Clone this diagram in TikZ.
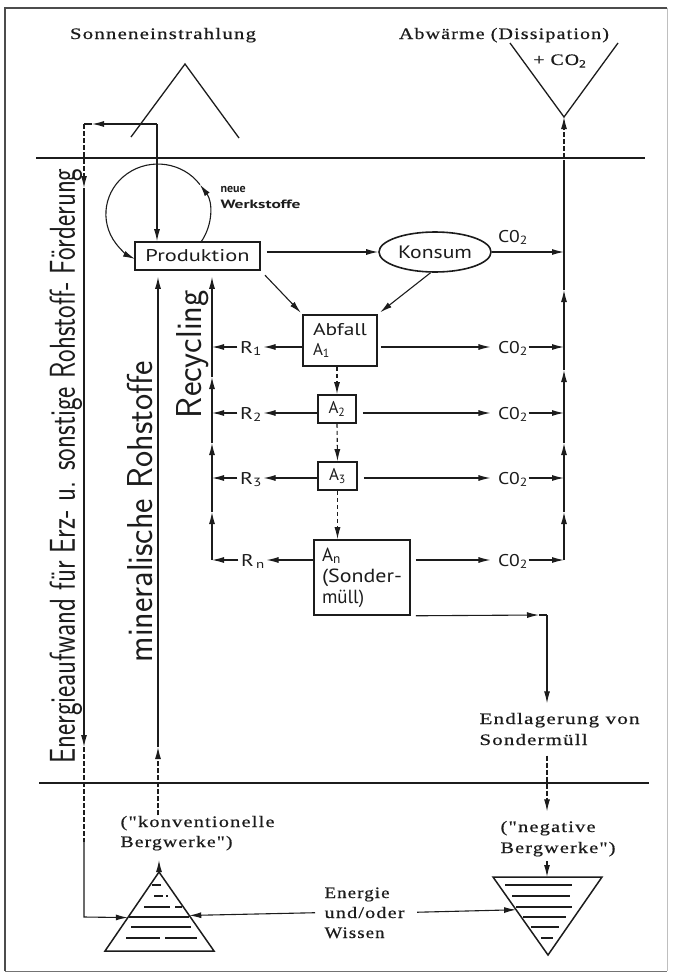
\documentclass[tikz,border=0pt]{standalone}
\usepackage{fontspec}
\usepackage{graphicx}
\usetikzlibrary{arrows.meta,calc,shapes.geometric}
\newfontfamily\scanserif[LetterSpace=6.0,FakeBold=0.6]{Liberation Serif}
\newfontfamily\boxsans{PT Sans}
\definecolor{ink}{HTML}{1C1C1C}
\newcommand\fitw[2]{\resizebox{#1}{\height}{#2}}
\tikzset{
 arr/.style={-{Latex[length=12pt,width=6pt]}},
 crossd/.style={dash pattern=on 5pt off 2pt},
 dsh/.style={dash pattern=on 4pt off 3pt},
 box/.style={draw,rectangle,line width=1.6pt,inner sep=0pt,font=\boxsans\fontsize{17}{20}\selectfont,align=left},
 lbl/.style={inner sep=0pt,font=\scanserif\fontsize{16}{20}\selectfont},
 slbl/.style={inner sep=0pt,font=\boxsans\fontsize{17}{20}\selectfont},
 nlbl/.style={inner sep=0pt,font=\boxsans\bfseries\fontsize{12}{14}\selectfont},
 rot/.style={rotate=90,inner sep=0pt,font=\sffamily\fontsize{36}{36}\selectfont},
 hatch/.style={line width=1.4pt},
 sep/.style={line width=1.4pt},
}
\begin{document}
\begin{tikzpicture}[x=1pt,y=-1pt,line width=1.1pt,color=ink]
\useasboundingbox (0,0) rectangle (672,977);
% frame
\draw[black!70,line width=1.2pt] (5,971) -- (5,8) -- (667,8);
\draw[black!25,line width=1pt] (667,8) -- (667,971);
\draw[black!55,line width=1pt] (5,971) -- (667,971);
% separators
\coordinate (topL) at (36,158); \coordinate (topR) at (645,158);
\coordinate (botL) at (39,783); \coordinate (botR) at (649,783);
\draw[sep] (topL) -- (topR);
\draw[sep] (botL) -- (botR);
% top labels and symbols
\node[lbl,anchor=base] (sun) at (163,39) {\fitw{186pt}{Sonneneinstrahlung}};
\node[lbl,anchor=base] (heat) at (504,39) {\fitw{210pt}{Abwärme (Dissipation)}};
\node[lbl,anchor=base] (co2top) at (560,65) {\fitw{53pt}{+ CO\textsubscript{2}}};
\coordinate (sunL) at (131,137); \coordinate (sunT) at (185,64); \coordinate (sunR) at (239,138);
\draw[line width=1.3pt] (sunL) -- (sunT) -- (sunR);
\coordinate (vL) at (510,43); \coordinate (vB) at (564,117); \coordinate (vR) at (618,43);
\draw[line width=1.3pt] (vL) -- (vB) -- (vR);
% rotated texts
\node[rot] (energytxt) at (66,466) {\fitw{595pt}{Energieaufwand für Erz- u. sonstige Rohstoff- Förderung}};
\node[rot] (mintxt) at (140,512) {\fitw{301pt}{mineralische Rohstoffe}};
\node[rot] (rectxt) at (193,354) {\fitw{128pt}{Recycling}};
% main nodes
\node[box,minimum width=125pt,minimum height=28pt] (prod) at (197.5,256) {\fitw{104pt}{Produktion}};
\node[draw,ellipse,line width=1.6pt,minimum width=112pt,minimum height=40pt,inner sep=0pt,font=\boxsans\fontsize{18}{20}\selectfont] (kons) at (435,252) {\fitw{74pt}{Konsum}};
\node[box,minimum width=74pt,minimum height=51pt] (abf) at (340,340.5) {\fitw{54pt}{Abfall}\\A\textsubscript{1}};
\node[box,minimum width=38pt,minimum height=28pt] (a2) at (337,409) {A\textsubscript{2}};
\node[box,minimum width=39pt,minimum height=28pt] (a3) at (337.5,476) {A\textsubscript{3}};
\node[box,minimum width=96pt,minimum height=75pt,font=\boxsans\fontsize{19}{21}\selectfont] (an) at (362,577.5) {A\textsubscript{n}\\\fitw{80pt}{(Sonder-}\\müll)};
\node[nlbl,anchor=base west] (neue) at (220,192) {neue};
\node[nlbl,anchor=base west] (werk) at (220,208) {\fitw{80pt}{Werkstoffe}};
% loop
\coordinate (lpS) at (201,242);
\draw[arr] (lpS) arc[start angle=-34,end angle=36,x radius=52pt,y radius=50pt] coordinate (lpM);
\draw[arr] (lpM) arc[start angle=36,end angle=244,x radius=52pt,y radius=50pt];
% production flows
\draw[arr,shorten <=6pt] (prod.east |- kons.west) -- (kons.west);
\draw[arr,shorten <=6pt,shorten >=2pt] (prod.south east) -- (abf.north west);
\draw[arr,shorten >=3pt] (kons.-102) -- (abf.north east);
\node[slbl,anchor=base] (ck) at (513,242) {\fitw{30pt}{C0\textsubscript{2}}};
\coordinate (rx) at (564,0);
\coordinate (recx) at (212,0);
\draw[arr] (kons.east) -- (kons.east -| rx);
% rows
\coordinate (row1) at (0,347); \coordinate (row2) at (0,413);
\coordinate (row3) at (0,478); \coordinate (rown) at (0,560);
\node[slbl,anchor=base] (R1) at (251,353) {\fitw{22pt}{R\textsubscript{1}}};
\node[slbl,anchor=base] (R2) at (251,419) {\fitw{22pt}{R\textsubscript{2}}};
\node[slbl,anchor=base] (R3) at (251,484) {\fitw{22pt}{R\textsubscript{3}}};
\node[slbl,anchor=base] (Rn) at (253,566) {\fitw{24pt}{R\textsubscript{\,n}}};
\node[slbl,anchor=base] (C1) at (513,353) {\fitw{30pt}{C0\textsubscript{2}}};
\node[slbl,anchor=base] (C2) at (513,419) {\fitw{30pt}{C0\textsubscript{2}}};
\node[slbl,anchor=base] (C3) at (513,484) {\fitw{30pt}{C0\textsubscript{2}}};
\node[slbl,anchor=base] (Cn) at (513,566) {\fitw{30pt}{C0\textsubscript{2}}};
% left row arrows
\draw[arr,shorten >=1pt] (abf.west |- row1) -- (R1.east |- row1);
\draw[arr,shorten >=1pt] (a2.west |- row2) -- (R2.east |- row2);
\draw[arr,shorten >=1pt] (a3.west |- row3) -- (R3.east |- row3);
\draw[arr,shorten >=1pt] (an.west |- rown) -- (Rn.east |- rown);
\draw[arr,shorten <=2pt] (R1.west |- row1) -- (recx |- row1);
\draw[arr,shorten <=2pt] (R2.west |- row2) -- (recx |- row2);
\draw[arr,shorten <=2pt] (R3.west |- row3) -- (recx |- row3);
\draw[arr,shorten <=2pt] (Rn.west |- rown) -- (recx |- rown);
% right row arrows
\draw[arr,shorten <=3pt,shorten >=7pt] (abf.east |- row1) -- (C1.west |- row1);
\draw[arr,shorten <=6pt,shorten >=7pt] (a2.east |- row2) -- (C2.west |- row2);
\draw[arr,shorten <=6pt,shorten >=7pt] (a3.east |- row3) -- (C3.west |- row3);
\draw[arr,shorten <=5pt,shorten >=7pt] (an.east |- rown) -- (Cn.west |- rown);
\draw[arr] (C1.east |- row1) -- (rx |- row1);
\draw[arr] (C2.east |- row2) -- (rx |- row2);
\draw[arr] (C3.east |- row3) -- (rx |- row3);
\draw[arr] (Cn.east |- rown) -- (rx |- rown);
% dashed waste chain
\draw[arr,dsh] (abf.south -| a2.north) -- (a2.north);
\draw[arr,dsh] (a2.south) -- (a3.north);
\draw[arr,dsh] (a3.south) -- (a3.south |- an.north);
% right collector
\coordinate (rjn) at (564,560); \coordinate (ra1) at (564,512);
\coordinate (ra2) at (564,443); \coordinate (ra3) at (564,370);
\coordinate (ra4) at (564,290); \coordinate (rjx) at (564,165);
\draw[arr] (rjn) -- (ra1);
\draw[arr] (ra1) -- (ra2);
\draw[arr] (ra2) -- (ra3);
\draw[arr] (ra3) -- (ra4);
\draw (ra4) -- (rjx);
\draw[arr,crossd] (rjx) -- (vB);
% recycling collector
\coordinate (ljn) at (212,560); \coordinate (la1) at (212,512);
\coordinate (la2) at (212,443); \coordinate (la3) at (212,377);
\draw[arr] (ljn) -- (la1);
\draw[arr] (la1) -- (la2);
\draw[arr] (la2) -- (la3);
\draw[arr,shorten >=6pt] (la3) -- (la3 |- prod.south);
% sun input and energy line
\coordinate (sj) at (157,124); \coordinate (bca) at (92,124); \coordinate (bc) at (84,124);
\draw[arr] (sj) -- (bca);
\draw (bca) -- (bc);
\draw[arr] (sj) -- (sj |- prod.north);
\coordinate (e1) at (84,188); \coordinate (e2) at (84,747);
\coordinate (e3) at (84,842); \coordinate (ec) at (84,917);
% triangles
\coordinate (ltA) at (159,872); \coordinate (ltBL) at (105,951); \coordinate (ltBR) at (214,951);
\coordinate (rtTL) at (493,877); \coordinate (rtTR) at (602,877); \coordinate (rtB) at (548,955);
\draw[line width=1.5pt] (ltA) -- (ltBL) -- (ltBR) -- cycle;
\draw[line width=1.5pt] (rtTL) -- (rtTR) -- (rtB) -- cycle;
\coordinate (ltp) at ($(ltA)!0.577!(ltBL)$);
\draw[arr,crossd] (bc) -- (e1);
\draw[arr] (e1) -- (e2);
\draw[crossd] (e2) -- (e3);
\draw[arr] (e3) -- (ec) -- (ltp);
% hatching left
\draw[hatch] (152,885) -- (161,885);
\draw[hatch] (154,896) -- (163,896) (166,896) -- (168,896);
\draw[hatch] (144,907) -- (170,907) (175,907) -- (182,907);
\draw[hatch] (129,917) -- (189,917);
\draw[hatch] (131,927) -- (191,927);
\draw[hatch] (126,938) -- (160,938) (165,938) -- (197,938);
% hatching right
\draw[hatch] (505,885) -- (572,885);
\draw[hatch] (512,896) -- (570,896);
\draw[hatch] (516,907) -- (572,907);
\draw[hatch] (523,917) -- (566,917);
\draw[hatch] (531,927) -- (559,927);
\draw[hatch] (541,938) -- (553,938);
% bottom labels
\node[lbl,anchor=base west] (konv1) at (120,827) {\fitw{154pt}{("konventionelle}};
\node[lbl,anchor=base west] (konv2) at (120,847) {\fitw{112pt}{Bergwerke")}};
\node[lbl,anchor=base west] (neg1) at (500,832) {\fitw{95pt}{("negative}};
\node[lbl,anchor=base west] (neg2) at (500,853) {\fitw{115pt}{Bergwerke")}};
\node[lbl,anchor=base west] (endl1) at (479,724) {\fitw{160pt}{Endlagerung von}};
\node[lbl,anchor=base west] (endl2) at (479,745) {\fitw{108pt}{Sondermüll}};
\node[lbl,anchor=base west] (en1) at (324,898) {\fitw{65pt}{Energie}};
\node[lbl,anchor=base west] (en2) at (324,918) {\fitw{80pt}{und/oder}};
\node[lbl,anchor=base west] (en3) at (324,938) {\fitw{60pt}{Wissen}};
% mineral line
\coordinate (mjx) at (158,747); \coordinate (ktip) at (159,860);
\draw[arr,crossd] (konv1.north -| mjx) -- (mjx);
\draw[arr,shorten >=6pt] (mjx) -- (mjx |- prod.south);
\draw[arr] (ltA) -- (ktip);
% final disposal
\coordinate (ac) at (547,615); \coordinate (aca) at (539,615);
\draw[arr,shorten <=5pt] (an.south east) -- (aca);
\draw (aca) -- (ac);
\draw[arr,shorten >=9pt] (ac) -- (ac |- endl1.north);
\draw[arr,crossd,shorten <=10pt,shorten >=9pt] (ac |- endl2.south) -- (ac |- neg1.north);
\draw[arr,shorten <=4pt] (ac |- neg2.south) -- (ac |- rtTL);
% energy / knowledge
\coordinate (ltq) at ($(ltA)!0.55!(ltBR)$);
\coordinate (rtq) at ($(rtTL)!0.42!(rtB)$);
\draw[arr,shorten <=9pt] (en2.west) -- (ltq);
\draw[arr,shorten <=12pt] (en2.east) -- (rtq);
\end{tikzpicture}
\end{document}
